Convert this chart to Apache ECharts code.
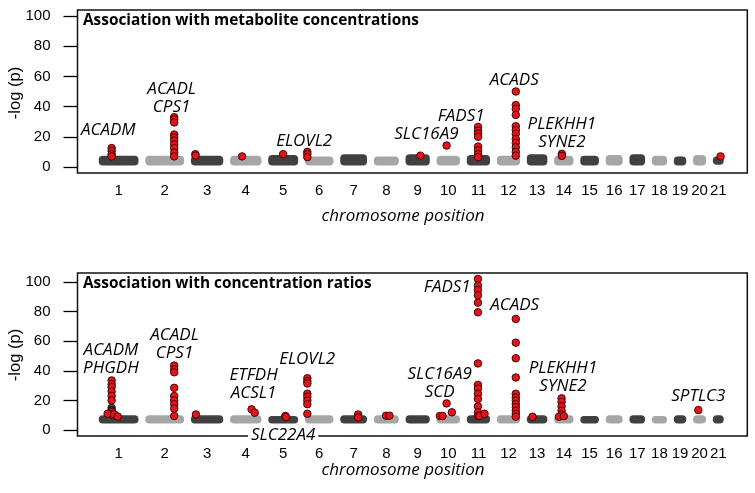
<!DOCTYPE html>
<html><head><meta charset="utf-8">
<script src="https://cdn.jsdelivr.net/npm/echarts@6/dist/echarts.min.js"></script>
<style>html,body{margin:0;padding:0;background:#fff}#c{width:755px;height:493px}</style>
</head><body><div id="c"></div>
<script>
// ---------------- data ----------------
const chromosomes = [1,2,3,4,5,6,7,8,9,10,11,12,13,14,15,16,17,18,19,20,21];
const chromLengthsMb = [249.3,243.2,198.0,191.2,180.9,171.1,159.1,146.4,141.2,135.5,135.0,133.9,115.2,107.3,102.5,90.4,81.2,78.1,59.1,63.0,48.1];
const chromGapMb = 75;
const yTicks = [0,20,40,60,80,100];

const panelTitles = ['Association with metabolite concentrations', 'Association with concentration ratios'];
const xAxisTitle = 'chromosome position';
const yAxisTitle = '-log (p)';

// background SNP clouds (-log p band per chromosome)
const cloudLowTop  = [1,1,1,1,1,1,1,1,1,1,1,1,1,1,1,1,1,1,1,1,1.5];
const cloudHighTop = [7.5,7.5,7.5,7.5,8,7,8.5,7,8.5,7.5,8,7.5,8.5,7.5,7.5,8,8.5,7.5,7,8,7];
const cloudLowBottom  = [4.5,4.5,4.5,4.5,4.5,4.5,4.5,4.5,4.5,4.5,4.5,4.5,4.5,4.5,4.5,4.5,4.5,4.5,4.5,4.5,4.5];
const cloudHighBottom = [10,10,10,10,9.5,10,10,10,10,10,10,10,10,10,9.5,10,10,9.5,10,10,10];

// significant hits: [chromosome, position (Mb), -log p]
const hitsConcentration = [
  [1,76,12.5],[1,76,10.5],[1,76,8.5],[1,76,7],
  [2,188,33],[2,188,31.5],[2,188,29.5],[2,188,21.5],[2,188,19.5],[2,188,17.5],[2,188,15],[2,188,12.5],[2,188,9.5],[2,188,7],
  [3,17,8.5],[3,19,7.5],
  [4,70,7],
  [5,90,8.5],
  [6,3,10],[6,3,8.5],[6,3,6.5],
  [9,90,7.5],
  [10,56,14.2],
  [11,65,26.5],[11,65,24],[11,65,22],[11,65,20],[11,65,13.5],[11,65,11],[11,65,8.5],[11,65,6.5],
  [12,118,50],[12,118,41],[12,118,38.5],[12,118,34.5],[12,118,27],[12,118,24.5],[12,118,22],[12,118,18.5],[12,118,16],[12,118,13],[12,118,10],[12,118,7.5],
  [14,40,8.7],[14,40,7.3],
  [21,40,7]
];
const hitsRatio = [
  [1,76,33.5],[1,76,31],[1,76,29],[1,76,26],[1,76,23],[1,76,20],[1,76,12],[1,76,10.5],[1,48,11],[1,94,10.6],[1,118,9.2],
  [2,188,43.5],[2,188,41],[2,188,39],[2,188,28.5],[2,188,23],[2,188,20],[2,188,17.5],[2,188,14.5],[2,188,9.5],
  [3,21,10.5],
  [4,136,14],[4,158,11.7],
  [5,105,9.5],[5,110,8.8],
  [6,3,35],[6,3,33],[6,3,31.5],[6,3,24.5],[6,3,22.5],[6,3,20],[6,3,17.5],[6,3,11],
  [7,111,10.5],[7,111,8.5],
  [8,72,9.7],[8,95,9.7],
  [10,9,9.5],[10,28,9.5],[10,56,18],[10,93,12],
  [11,64,102],[11,64,97.5],[11,64,94.5],[11,64,91],[11,64,86],[11,64,79.5],[11,64,45],[11,64,30.5],[11,64,28],[11,64,24.5],[11,64,21],[11,64,16],[11,64,12],[11,64,9.5],[11,74,9.5],[11,110,11],
  [12,118,75],[12,118,59],[12,118,48.5],[12,118,35.5],[12,118,24.5],[12,118,22],[12,118,20],[12,118,17.5],[12,118,15.5],[12,118,13],[12,118,11],[12,118,9],
  [13,26,9],
  [14,38,21.4],[14,38,19],[14,38,16],[14,38,13],[14,38,10.5],[14,20,9],[14,54,9.4],
  [20,23,13.5]
];
// dark (non-highlighted) SNPs above the cloud
const extraRatio = [[1,76,15],[1,76,13.5]];

// gene annotations: [text, chromosome, offset (Mb), -log p]
const genesConcentration = [
  ['ACADM',1,52,24.2],
  ['ACADL\nCPS1',2,170,45.8],
  ['ELOVL2',6,-19,16.9],
  ['SLC16A9',10,-85,21.8],
  ['FADS1',11,-53,33.5],
  ['ACADS',12,107,57.5],
  ['PLEKHH1\nSYNE2',14,40,22.2]
];
const genesRatio = [
  ['ACADM\nPHGDH',1,71,48.1],
  ['ACADL\nCPS1',2,190,57.9],
  ['ETFDH\nACSL1',4,150,31],
  ['SLC22A4',5,90,-3.4],
  ['ELOVL2',6,2,47.7],
  ['SLC16A9\nSCD',10,8,31.5],
  ['FADS1',11,-150,96.2],
  ['ACADS',12,110,84.3],
  ['PLEKHH1\nSYNE2',14,48,35.4],
  ['SPTLC3',20,23,22.9]
];

// ---------------- layout helpers ----------------
const chromStarts = [];
let acc = 0;
chromLengthsMb.forEach(len => { chromStarts.push(acc); acc += len + chromGapMb; });
const chromCenters = chromStarts.map((s, i) => s + chromLengthsMb[i] / 2);
const gx = (chrom, pos) => chromStarts[chrom - 1] + pos;

const DARK = '#404040', LIGHT = '#a6a6a6';
const RED = '#e3141c', RED_EDGE = '#4a0505';
const ITALIC_FONT = 'italic 17px "Open Sans"';

function cloudData(lows, highs) {
  return chromosomes.map((c, i) => [chromStarts[i], chromStarts[i] + chromLengthsMb[i], lows[i], highs[i], i % 2]);
}
function cloudSeries(idx, lows, highs) {
  return {
    type: 'custom', xAxisIndex: idx, yAxisIndex: idx, silent: true, z: 1,
    encode: { x: [0, 1], y: [2, 3] },
    data: cloudData(lows, highs),
    renderItem: (params, api) => {
      const p1 = api.coord([api.value(0), api.value(3)]);
      const p2 = api.coord([api.value(1), api.value(2)]);
      return { type: 'rect',
        shape: { x: p1[0] - 2, y: p1[1], width: p2[0] - p1[0] + 4, height: p2[1] - p1[1], r: 4 },
        style: { fill: api.value(4) === 0 ? DARK : LIGHT } };
    }
  };
}
function hitSeries(idx, hits) {
  return { type: 'scatter', xAxisIndex: idx, yAxisIndex: idx, silent: true, z: 3,
    symbolSize: 7.5,
    itemStyle: { color: RED, borderColor: RED_EDGE, borderWidth: 1, opacity: 1 },
    data: hits.map(h => [gx(h[0], h[1]), h[2]]) };
}
function extraSeries(idx, pts) {
  return { type: 'scatter', xAxisIndex: idx, yAxisIndex: idx, silent: true, z: 2,
    symbolSize: 7.5,
    itemStyle: { color: '#2a2a2a', borderColor: '#000', borderWidth: 1 },
    data: pts.map(h => [gx(h[0], h[1]), h[2]]) };
}
function nearestChrom(v) {
  let best = 0, bd = Infinity;
  chromCenters.forEach((c, i) => { const d = Math.abs(c - v); if (d < bd) { bd = d; best = i; } });
  return String(chromosomes[best]);
}
const GRID_LEFT = 77.5, GRID_WIDTH = 669.8;
const X_MIN = -162, X_MAX = 4508;
function xAxis(idx) {
  return { type: 'value', gridIndex: idx, min: X_MIN, max: X_MAX,
    axisLine: { show: false, onZero: false }, axisTick: { show: false }, splitLine: { show: false },
    axisLabel: { customValues: chromCenters, formatter: nearestChrom, margin: 10,
      fontFamily: 'Liberation Sans', fontSize: 15, color: '#000', hideOverlap: false } };
}
function yAxis(idx, max) {
  return { type: 'value', gridIndex: idx, min: -4, max: max,
    axisLine: { show: false, onZero: false }, splitLine: { show: false },
    axisTick: { show: true, inside: false, customValues: yTicks, length: 14, lineStyle: { color: '#000', width: 1.3 } },
    axisLabel: { customValues: yTicks, margin: 27, fontFamily: 'Liberation Sans', fontSize: 15, color: '#000' } };
}

const chart = echarts.init(document.getElementById('c'), null, { renderer: 'canvas' });
chart.setOption({
  animation: false,
  backgroundColor: '#fff',
  grid: [
    { left: GRID_LEFT, width: GRID_WIDTH, top: 10, height: 163, show: true, borderColor: '#111', borderWidth: 1.5, backgroundColor: 'transparent' },
    { left: GRID_LEFT, width: GRID_WIDTH, top: 273, height: 163, show: true, borderColor: '#111', borderWidth: 1.5, backgroundColor: 'transparent' }
  ],
  xAxis: [xAxis(0), xAxis(1)],
  yAxis: [yAxis(0, 104), yAxis(1, 106)],
  series: [
    cloudSeries(0, cloudLowTop, cloudHighTop),
    cloudSeries(1, cloudLowBottom, cloudHighBottom),
    extraSeries(1, extraRatio),
    hitSeries(0, hitsConcentration),
    hitSeries(1, hitsRatio)
  ]
});

// gene labels placed through the axes' scales
function geneGraphics(idx, genes) {
  return genes.map(g => {
    const p = chart.convertToPixel({ gridIndex: idx }, [gx(g[1], g[2]), g[3]]);
    const el = { type: 'text', x: p[0], y: p[1], z: 10,
      style: { text: g[0], font: ITALIC_FONT, fill: '#000', align: 'center', verticalAlign: 'middle', lineHeight: 18 } };
    if (g[0] === 'SLC22A4') { el.style.backgroundColor = '#fff'; el.style.padding = [1, 3, 0, 3]; }
    return el;
  });
}
chart.setOption({
  graphic: [
    { type: 'text', left: 83, top: 13, style: { text: panelTitles[0], font: 'bold 15.4px "Open Sans"', fill: '#000' } },
    { type: 'text', left: 83, top: 276, style: { text: panelTitles[1], font: 'bold 15.4px "Open Sans"', fill: '#000' } },
    { type: 'text', x: 403, y: 216, style: { text: xAxisTitle, font: ITALIC_FONT, fill: '#000', align: 'center', verticalAlign: 'middle' } },
    { type: 'text', x: 403, y: 470, style: { text: xAxisTitle, font: ITALIC_FONT, fill: '#000', align: 'center', verticalAlign: 'middle' } },
    { type: 'text', x: 15, y: 93, rotation: Math.PI / 2, style: { text: yAxisTitle, font: '16.5px "Liberation Sans"', fill: '#000', align: 'center', verticalAlign: 'middle' } },
    { type: 'text', x: 15, y: 355, rotation: Math.PI / 2, style: { text: yAxisTitle, font: '16.5px "Liberation Sans"', fill: '#000', align: 'center', verticalAlign: 'middle' } }
  ].concat(geneGraphics(0, genesConcentration), geneGraphics(1, genesRatio))
});
</script>
</body></html>
